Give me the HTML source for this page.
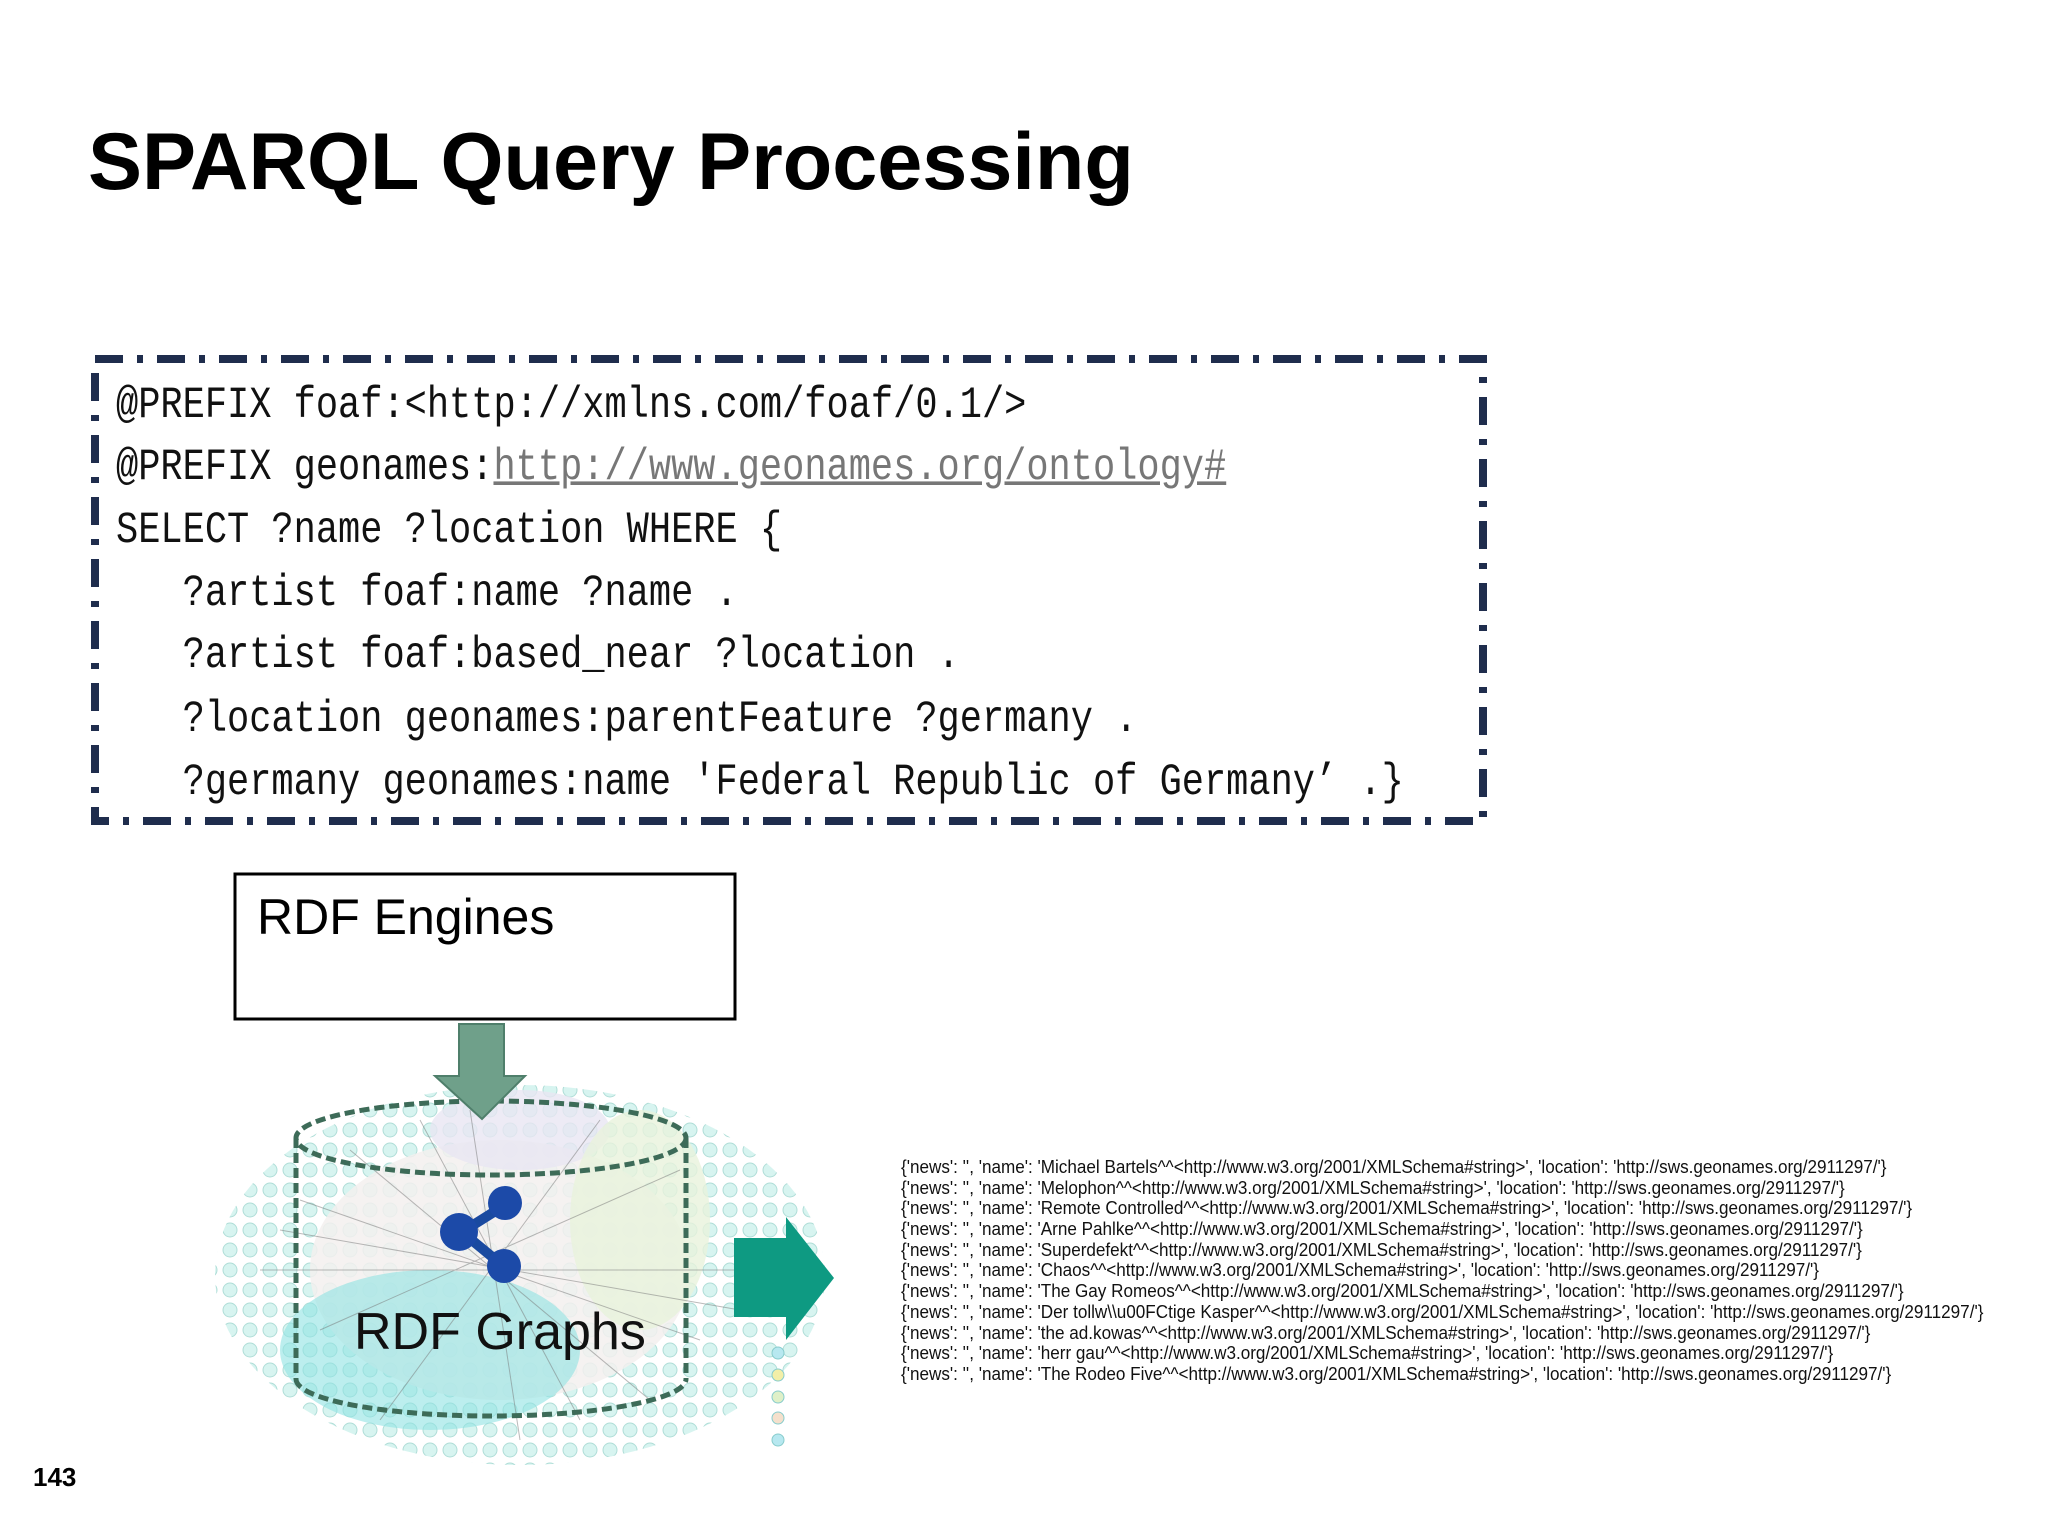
<!DOCTYPE html>
<html><head><meta charset="utf-8"><style>
html,body{margin:0;padding:0;background:#fff;}
body{width:2048px;height:1536px;position:relative;overflow:hidden;font-family:"Liberation Sans",sans-serif;}
.t{position:absolute;white-space:pre;}
.code{position:absolute;left:116px;font-family:"Liberation Mono",monospace;font-size:37px;color:#111;white-space:pre;transform:scaleY(1.2);transform-origin:left bottom;line-height:1;}
.res{position:absolute;left:901px;font-size:18px;color:#111;white-space:pre;line-height:1;transform:scaleX(0.95);transform-origin:left;}
</style></head><body>
<div class="t" style="left:88px;top:116px;font-size:81px;font-weight:bold;color:#000;">SPARQL Query Processing</div>

<svg style="position:absolute;left:0;top:0" width="2048" height="1536">
  <rect x="95" y="359" width="1388" height="462" fill="none" stroke="#1f2d4d" stroke-width="8" stroke-dasharray="28 14 6 14"/>
  <rect x="235" y="874" width="500" height="145" fill="#fff" stroke="#000" stroke-width="3"/>
  <defs>
    <pattern id="dots" width="20" height="20" patternUnits="userSpaceOnUse">
      <circle cx="10" cy="10" r="7" fill="#c6efe9" stroke="#8ccfc6" stroke-width="1"/>
    </pattern>
    <clipPath id="net"><ellipse cx="520" cy="1275" rx="305" ry="190"/></clipPath>
  </defs>
  <g clip-path="url(#net)">
    <rect x="200" y="1080" width="660" height="400" fill="#fff"/>
    <rect x="200" y="1080" width="660" height="400" fill="url(#dots)" opacity="0.7"/>
    <ellipse cx="500" cy="1270" rx="190" ry="130" fill="#f3f0ee" opacity="0.85"/>
    <ellipse cx="520" cy="1130" rx="90" ry="40" fill="#e8e6f3" opacity="0.8"/>
    <ellipse cx="430" cy="1350" rx="150" ry="80" fill="#8fe3e3" opacity="0.6"/>
    <ellipse cx="640" cy="1220" rx="70" ry="110" fill="#e9f3dc" opacity="0.8"/>
    <g stroke="#777" stroke-width="1" opacity="0.5">
      <line x1="300" y1="1200" x2="700" y2="1340"/><line x1="320" y1="1330" x2="680" y2="1170"/>
      <line x1="420" y1="1120" x2="580" y2="1420"/><line x1="260" y1="1270" x2="760" y2="1270"/>
      <line x1="350" y1="1150" x2="650" y2="1400"/><line x1="600" y1="1120" x2="380" y2="1420"/>
      <line x1="280" y1="1230" x2="740" y2="1310"/><line x1="470" y1="1110" x2="520" y2="1440"/>
    </g>
  </g>
  <g fill="#b7e8f0" stroke="#8cc" stroke-width="1">
    <circle cx="778" cy="1353" r="6"/><circle cx="778" cy="1375" r="6" fill="#f3efa8"/><circle cx="778" cy="1397" r="6" fill="#dff0c8"/><circle cx="778" cy="1418" r="6" fill="#f5e0cc"/><circle cx="778" cy="1440" r="6"/>
  </g>
  <ellipse cx="491" cy="1138" rx="195" ry="37" fill="none" stroke="#3d6b58" stroke-width="5" stroke-dasharray="10 5"/>
  <line x1="296" y1="1138" x2="296" y2="1379" stroke="#3d6b58" stroke-width="5" stroke-dasharray="10 5"/>
  <line x1="686" y1="1138" x2="686" y2="1379" stroke="#3d6b58" stroke-width="5" stroke-dasharray="10 5"/>
  <path d="M296 1379 A195 37 0 0 0 686 1379" fill="none" stroke="#3d6b58" stroke-width="5" stroke-dasharray="10 5"/>
  <path d="M459 1024 H504 V1076 H525 L482 1119 L435 1076 H459 Z" fill="#6fa08a" stroke="#4f7f6b" stroke-width="2"/>
  <g stroke="#1a4aa0" stroke-width="10"><line x1="505" y1="1205" x2="462" y2="1232"/><line x1="462" y1="1232" x2="502" y2="1265"/></g>
  <g fill="#1c4aa8"><circle cx="505" cy="1203" r="17"/><circle cx="459" cy="1232" r="19"/><circle cx="504" cy="1266" r="17"/></g>
  <path d="M734 1238 H786 V1217 L834 1278 L786 1340 V1317 H734 Z" fill="#0e9a82"/>
</svg>

<div class="t" style="left:257px;top:888px;font-size:50px;color:#000;">RDF Engines</div>
<div class="t" style="left:354px;top:1302px;font-size:52px;color:#111;">RDF Graphs</div>

<div class="code" style="top:392px">@PREFIX foaf:&lt;http://xmlns.com/foaf/0.1/&gt;</div>
<div class="code" style="top:454px">@PREFIX geonames:<span style="color:#777;text-decoration:underline;">http://www.geonames.org/ontology#</span></div>
<div class="code" style="top:517px">SELECT ?name ?location WHERE {</div>
<div class="code" style="top:580px">   ?artist foaf:name ?name .</div>
<div class="code" style="top:642px">   ?artist foaf:based_near ?location .</div>
<div class="code" style="top:706px">   ?location geonames:parentFeature ?germany .</div>
<div class="code" style="top:769px">   ?germany geonames:name 'Federal Republic of Germany’ .}</div>

<div class="res" style="top:1158px">{'news': '', 'name': 'Michael Bartels^^&lt;http://www.w3.org/2001/XMLSchema#string&gt;', 'location': 'http://sws.geonames.org/2911297/'}</div>
<div class="res" style="top:1179px">{'news': '', 'name': 'Melophon^^&lt;http://www.w3.org/2001/XMLSchema#string&gt;', 'location': 'http://sws.geonames.org/2911297/'}</div>
<div class="res" style="top:1199px">{'news': '', 'name': 'Remote Controlled^^&lt;http://www.w3.org/2001/XMLSchema#string&gt;', 'location': 'http://sws.geonames.org/2911297/'}</div>
<div class="res" style="top:1220px">{'news': '', 'name': 'Arne Pahlke^^&lt;http://www.w3.org/2001/XMLSchema#string&gt;', 'location': 'http://sws.geonames.org/2911297/'}</div>
<div class="res" style="top:1241px">{'news': '', 'name': 'Superdefekt^^&lt;http://www.w3.org/2001/XMLSchema#string&gt;', 'location': 'http://sws.geonames.org/2911297/'}</div>
<div class="res" style="top:1261px">{'news': '', 'name': 'Chaos^^&lt;http://www.w3.org/2001/XMLSchema#string&gt;', 'location': 'http://sws.geonames.org/2911297/'}</div>
<div class="res" style="top:1282px">{'news': '', 'name': 'The Gay Romeos^^&lt;http://www.w3.org/2001/XMLSchema#string&gt;', 'location': 'http://sws.geonames.org/2911297/'}</div>
<div class="res" style="top:1303px">{'news': '', 'name': 'Der tollw\\u00FCtige Kasper^^&lt;http://www.w3.org/2001/XMLSchema#string&gt;', 'location': 'http://sws.geonames.org/2911297/'}</div>
<div class="res" style="top:1324px">{'news': '', 'name': 'the ad.kowas^^&lt;http://www.w3.org/2001/XMLSchema#string&gt;', 'location': 'http://sws.geonames.org/2911297/'}</div>
<div class="res" style="top:1344px">{'news': '', 'name': 'herr gau^^&lt;http://www.w3.org/2001/XMLSchema#string&gt;', 'location': 'http://sws.geonames.org/2911297/'}</div>
<div class="res" style="top:1365px">{'news': '', 'name': 'The Rodeo Five^^&lt;http://www.w3.org/2001/XMLSchema#string&gt;', 'location': 'http://sws.geonames.org/2911297/'}</div>

<div class="t" style="left:33px;top:1462px;font-size:26px;font-weight:bold;color:#000;">143</div>
</body></html>
